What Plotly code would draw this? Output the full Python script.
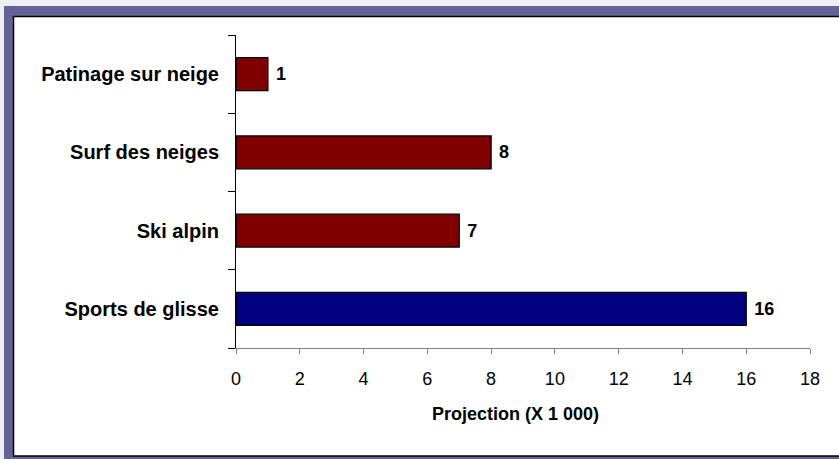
import plotly.graph_objects as go

categories = ["Sports de glisse", "Ski alpin", "Surf des neiges", "Patinage sur neige"]
values = [16, 7, 8, 1]
colors = ["#000080", "#800000", "#800000", "#800000"]
x_title = "Projection (X 1 000)"

W, H = 839, 459
L, R, T, B = 236, 810, 35, 348

def px(x):
    return (x - L) / (R - L)

def py(y):
    return (B - y) / (B - T)

fig = go.Figure(go.Bar(
    y=categories, x=values, orientation="h",
    marker=dict(color=colors, line=dict(color="#000000", width=1.3)),
    width=0.42,
    text=[" " + str(v) for v in values], textposition="outside",
    textfont=dict(family="Liberation Sans, Arial", size=18, color="#000000", weight="bold"),
    cliponaxis=False,
))

fig.update_layout(
    width=W, height=H,
    margin=dict(l=L, r=W - R, t=T, b=H - B),
    paper_bgcolor="#EEEEF4",
    plot_bgcolor="rgba(0,0,0,0)",
    showlegend=False,
    font=dict(family="Liberation Sans, Arial", size=18, color="#000000"),
    xaxis=dict(range=[0, 18], dtick=2, ticks="outside", ticklen=5, tickcolor="#808080",
               showline=True, linecolor="#808080", linewidth=1, showgrid=False, zeroline=False,
               tickfont=dict(size=18), ticklabelstandoff=9),
    yaxis=dict(type="category", categoryorder="array", categoryarray=categories,
               tickson="boundaries", ticks="outside", ticklen=7, tickcolor="#000000",
               showline=True, linecolor="#000000", linewidth=1, showgrid=False,
               tickfont=dict(size=20, weight="bold"), ticklabelstandoff=12),
    annotations=[
        dict(text="<b>" + x_title + "</b>", xref="paper", yref="paper",
             x=px(515), y=py(414), xanchor="center", yanchor="middle",
             showarrow=False, font=dict(size=18, color="#000000")),
    ],
    shapes=[
        dict(type="rect", xref="paper", yref="paper", layer="below",
             x0=px(4), x1=px(845), y0=py(6), y1=py(465),
             fillcolor="#636397", line=dict(width=0)),
        dict(type="rect", xref="paper", yref="paper", layer="below",
             x0=px(13.5), x1=px(845), y0=py(16.5), y1=py(456),
             fillcolor="#FFFFFF", line=dict(color="#000000", width=1.5)),
    ],
)

fig.write_html("out.html", config={"displayModeBar": False},
               post_script="document.body.style.margin='0';document.body.style.overflow='hidden';")
